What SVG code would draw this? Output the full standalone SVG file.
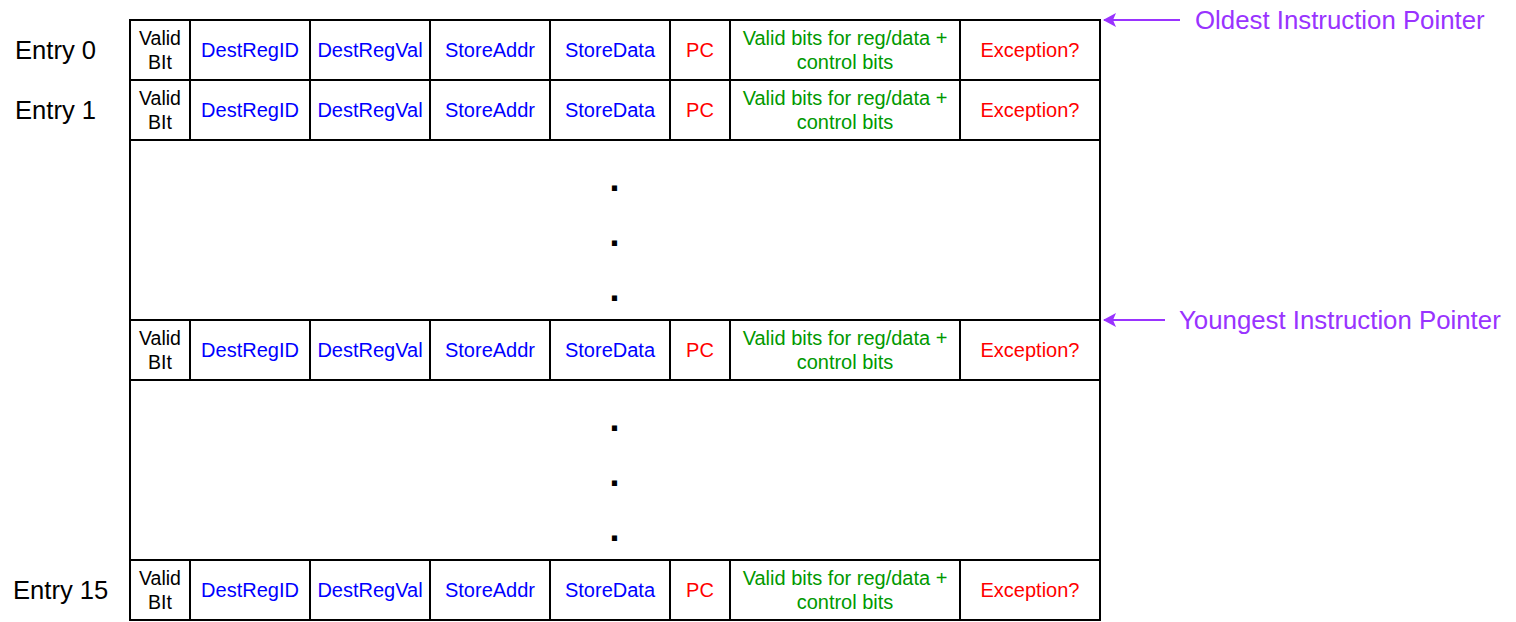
<svg xmlns="http://www.w3.org/2000/svg" width="1516" height="622" viewBox="0 0 1516 622">
<defs>
<style>
text{font-family:"Liberation Sans",Arial,Helvetica,sans-serif}
.c{fill:#fff;stroke:#000;stroke-width:2}
.t{font-size:20px;text-anchor:middle}
.v{font-size:19.5px;text-anchor:middle}
.k{fill:#000}
.b{fill:#0000FF}
.r{fill:#FF0000}
.g{fill:#009900}
.e{font-size:25.6px;fill:#000}
.p{font-size:25.8px;fill:#9933FF}
.d{font-size:36px;font-weight:bold;text-anchor:middle;fill:#000}
.a{stroke:#9933FF;stroke-width:2;fill:none}
</style>
<marker id="ah" viewBox="0 0 13 14" refX="12" refY="7" markerWidth="13" markerHeight="14" markerUnits="userSpaceOnUse" orient="auto" overflow="visible">
<path d="M0,0 L13,7 L0,14 L3,7 Z" fill="#9933FF"/>
</marker>
<g id="rowcells">
<rect class="c" x="130" y="0" width="60" height="60"/>
<rect class="c" x="190" y="0" width="120" height="60"/>
<rect class="c" x="310" y="0" width="120" height="60"/>
<rect class="c" x="430" y="0" width="120" height="60"/>
<rect class="c" x="550" y="0" width="120" height="60"/>
<rect class="c" x="670" y="0" width="60" height="60"/>
<rect class="c" x="730" y="0" width="230" height="60"/>
<rect class="c" x="960" y="0" width="140" height="60"/>
<text class="v k" x="160" y="24.5">Valid</text>
<text class="v k" x="160" y="48.5">BIt</text>
<text class="t b" x="250" y="37">DestRegID</text>
<text class="t b" x="370" y="37">DestRegVal</text>
<text class="t b" x="490" y="37">StoreAddr</text>
<text class="t b" x="610" y="37">StoreData</text>
<text class="t r" x="700" y="37">PC</text>
<text class="t g" x="845" y="25">Valid bits for reg/data +</text>
<text class="t g" x="845" y="49">control bits</text>
<text class="t r" x="1030" y="37">Exception?</text>
</g>
</defs>
<rect width="1516" height="622" fill="#fff"/>
<g id="entry0">
<use href="#rowcells" y="20"/>
<text class="e" x="15" y="59">Entry 0</text>
</g>
<g id="entry1">
<use href="#rowcells" y="80"/>
<text class="e" x="15" y="119">Entry 1</text>
</g>
<g id="gap1">
<rect class="c" x="130" y="140" width="970" height="180"/>
<text class="d" x="614.5" y="191">.</text>
<text class="d" x="614.5" y="246">.</text>
<text class="d" x="614.5" y="301">.</text>
</g>
<g id="entryYoungest">
<use href="#rowcells" y="320"/>
</g>
<g id="gap2">
<rect class="c" x="130" y="380" width="970" height="180"/>
<text class="d" x="614.5" y="431">.</text>
<text class="d" x="614.5" y="486">.</text>
<text class="d" x="614.5" y="541">.</text>
</g>
<g id="entry15">
<use href="#rowcells" y="560"/>
<text class="e" x="13" y="599">Entry 15</text>
</g>
<g id="oldestLabel">
<text class="p" x="1195" y="29">Oldest Instruction Pointer</text>
</g>
<g id="youngestLabel">
<text class="p" x="1179" y="329">Youngest Instruction Pointer</text>
</g>
<g id="connectors">
<path class="a" d="M1180,20 L1104,20" marker-end="url(#ah)"/>
<path class="a" d="M1165,320 L1104,320" marker-end="url(#ah)"/>
</g>
</svg>
